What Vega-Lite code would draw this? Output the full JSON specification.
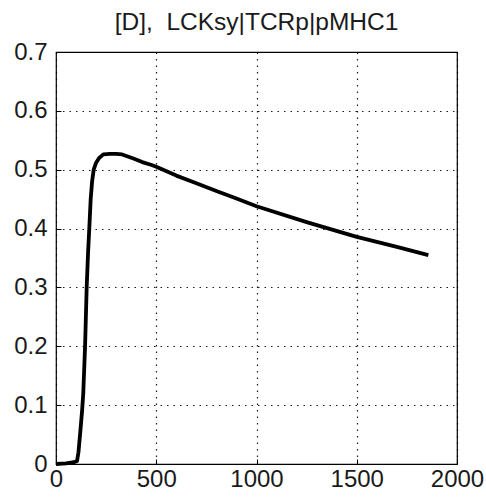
{
  "$schema": "https://vega.github.io/schema/vega-lite/v6.json",
  "autosize": "none",
  "width": 401,
  "height": 412,
  "padding": {"left": 56, "top": 52, "right": 29, "bottom": 35},
  "background": "white",
  "title": {
    "text": "[D],\u00a0\u00a0LCKsy|TCRp|pMHC1",
    "font": "Liberation Sans",
    "fontSize": 24.5,
    "fontWeight": "normal",
    "color": "#1a1a1a",
    "baseline": "bottom",
    "offset": 12,
    "dy": 31,
    "anchor": "middle"
  },
  "config": {
    "view": {"stroke": "black", "strokeWidth": 1.2},
    "axis": {
      "labelFont": "Liberation Sans",
      "labelFontSize": 24,
      "labelColor": "#1a1a1a",
      "domain": false,
      "tickColor": "black",
      "tickSize": -5,
      "gridColor": "black",
      "gridDash": [1.5, 5],
      "gridOpacity": 0.9,
      "gridWidth": 1.2,
      "title": null
    }
  },
  "data": {
    "values": [
      {"t": 0, "v": 0},
      {"t": 50, "v": 0.001},
      {"t": 90, "v": 0.003},
      {"t": 105, "v": 0.005},
      {"t": 112, "v": 0.02},
      {"t": 120, "v": 0.05},
      {"t": 130, "v": 0.09},
      {"t": 136, "v": 0.12},
      {"t": 145, "v": 0.2},
      {"t": 153, "v": 0.3},
      {"t": 160, "v": 0.36},
      {"t": 166, "v": 0.4},
      {"t": 173, "v": 0.45},
      {"t": 180, "v": 0.48},
      {"t": 188, "v": 0.5},
      {"t": 200, "v": 0.512},
      {"t": 215, "v": 0.52},
      {"t": 236, "v": 0.526},
      {"t": 270, "v": 0.527},
      {"t": 300, "v": 0.527},
      {"t": 330, "v": 0.526},
      {"t": 386, "v": 0.519},
      {"t": 430, "v": 0.513},
      {"t": 477, "v": 0.508},
      {"t": 500, "v": 0.505},
      {"t": 600, "v": 0.49},
      {"t": 700, "v": 0.477},
      {"t": 800, "v": 0.464},
      {"t": 900, "v": 0.451},
      {"t": 1000, "v": 0.438},
      {"t": 1250, "v": 0.411},
      {"t": 1500, "v": 0.386},
      {"t": 1700, "v": 0.369},
      {"t": 1857, "v": 0.355}
    ]
  },
  "mark": {"type": "line", "color": "black", "strokeWidth": 3.8, "strokeJoin": "round"},
  "encoding": {
    "x": {
      "field": "t",
      "type": "quantitative",
      "scale": {"domain": [0, 2000], "nice": false, "zero": false},
      "axis": {"values": [0, 500, 1000, 1500, 2000], "format": "d", "labelPadding": 8, "labelFlush": false}
    },
    "y": {
      "field": "v",
      "type": "quantitative",
      "scale": {"domain": [0, 0.7], "nice": false},
      "axis": {"values": [0, 0.1, 0.2, 0.3, 0.4, 0.5, 0.6, 0.7], "labelExpr": "datum.value == 0 ? '0' : format(datum.value, '.1f')", "labelPadding": 14}
    }
  }
}
